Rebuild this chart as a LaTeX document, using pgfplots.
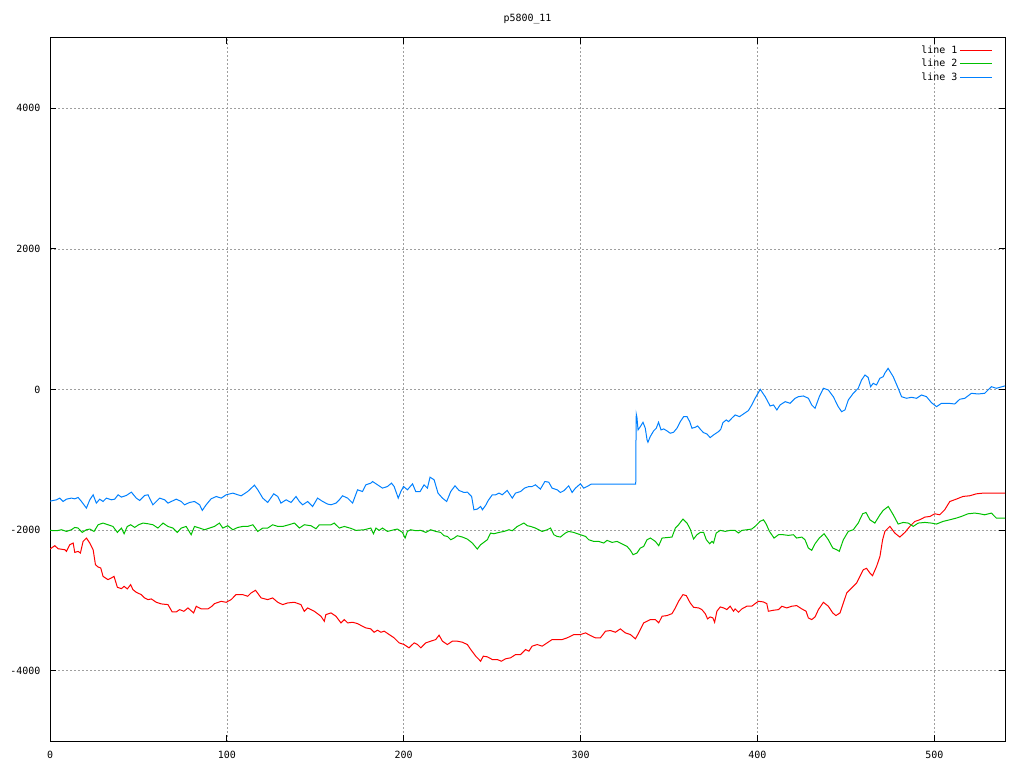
\documentclass[border=0pt]{standalone}
\usepackage{fontspec}
\setmainfont{DejaVu Sans Mono}
\usepackage{pgfplots}
\pgfplotsset{compat=1.18}

\definecolor{gpred}{HTML}{FF0000}
\definecolor{gpgreen}{HTML}{00C000}
\definecolor{gpblue}{HTML}{0080FF}

\begin{document}
\begin{tikzpicture}
\path[use as bounding box] (0,0) rectangle (1024bp,768bp);
\begin{axis}[
    at={(50bp,27bp)}, anchor=south west,
    scale only axis, width=955bp, height=703bp,
    xmin=0, xmax=540, ymin=-5000, ymax=5000,
    xtick={0,100,...,500},
    ytick={-4000,-2000,...,4000},
    grid=major,
    major grid style={gray!75, dash pattern=on 1.5bp off 2.5bp, line width=0.6bp},
    tick align=inside, major tick length=6bp,
    tick style={black, line width=0.8bp},
    axis line style={black, line width=1bp},
    /pgf/number format/assume math mode=true,
    /pgf/number format/1000 sep={},
    tick label style={font=\fontsize{10}{12}\selectfont},
    xticklabel style={yshift=-7bp},
    yticklabel style={xshift=-6bp},
    title={p5800\_11},
    title style={at={(0.5,1)}, anchor=center, yshift=13bp, font=\fontsize{10}{12}\selectfont},
    no markers,
    legend plot pos=right,
    legend image code/.code={\draw[#1] (0bp,0bp) -- (32bp,0bp);},
    legend style={draw=none, fill=none, at={(rel axis cs:0.99,0.995)}, anchor=north east,
        font=\fontsize{10}{12}\selectfont, row sep=0.5bp, cells={anchor=east}},
]
% line 1 (red)
\addplot[gpred, line width=1bp] coordinates {
(0,-2269)(2.7,-2222)(4.6,-2265)(8.4,-2279)(9.3,-2303)(11.2,-2208)(13.1,-2184)(14,-2317)(15.9,-2303)(17.2,-2326)
(18.7,-2161)(20.6,-2113)(22.5,-2184)(24.4,-2279)(25.7,-2492)(27.2,-2525)(28.7,-2539)(30,-2658)(32.8,-2705)(34.7,-2681)
(36.2,-2658)(38.1,-2814)(40.4,-2833)(41.9,-2800)(43.7,-2837)(45.6,-2776)(46.9,-2847)(48.8,-2885)(51.6,-2918)(53.5,-2965)
(55.4,-2989)(57.3,-2979)(60.1,-3027)(62.9,-3050)(66.7,-3060)(69.1,-3164)(71.4,-3164)(73.3,-3131)(75.7,-3155)(78,-3107)
(81.2,-3178)(82.7,-3084)(85.5,-3121)(89.3,-3121)(91.5,-3084)(93,-3046)(96.8,-3013)(99.6,-3027)(102.4,-2989)(105.2,-2918)
(109,-2918)(111.8,-2941)(113.7,-2894)(116.2,-2856)(119.4,-2965)(123.1,-2989)(125.9,-2965)(128.8,-3027)(131.6,-3060)(134.4,-3036)
(138.2,-3027)(141.9,-3060)(143.8,-3155)(145.7,-3107)(149.5,-3155)(153.2,-3225)(155.1,-3297)(156,-3202)(158.9,-3178)(161.7,-3225)
(164.5,-3320)(166.4,-3273)(168.3,-3320)(171.1,-3311)(173.9,-3330)(176.7,-3368)(178.6,-3391)(181.4,-3405)
(183.3,-3453)(185.2,-3424)(187.1,-3453)(189,-3438)(191.8,-3486)(194.6,-3533)(197.4,-3604)(200.2,-3628)(203,-3675)(205.9,-3604)
(207.8,-3628)(209.7,-3675)(212.5,-3604)(215.3,-3580)(218.1,-3557)(220,-3495)(221.9,-3580)(224.7,-3628)(227.5,-3580)(230.3,-3580)
(233.2,-3595)(236,-3628)(237.9,-3699)(240.7,-3793)(243.5,-3865)(245,-3793)(247.3,-3803)(250.1,-3841)(252.9,-3841)(255.2,-3865)
(257.6,-3831)(260.4,-3817)(263.3,-3770)(266.1,-3770)(268.9,-3699)(270.8,-3722)(272.6,-3651)(275.5,-3628)(278.3,-3651)(281.1,-3604)
(283.9,-3557)(286.8,-3557)(289.6,-3557)(292.4,-3533)(296.2,-3486)(299.9,-3486)(302.8,-3462)(305.6,-3500)(308.4,-3533)(311.2,-3533)
(314.1,-3438)(316.9,-3429)(319.7,-3453)(322.5,-3405)(325.3,-3462)(328.2,-3486)(331,-3547)(332.9,-3462)(335.7,-3320)(339.5,-3273)
(342.3,-3273)(344.2,-3320)(346.1,-3225)(348.9,-3216)(351.7,-3188)(353.6,-3107)(355.4,-3013)(357.9,-2918)(359.8,-2932)
(362,-3036)(363.9,-3098)(366.7,-3107)(368.6,-3131)(370.5,-3188)(371.8,-3263)(373.3,-3235)(374.8,-3249)(375.8,-3311)(377.1,-3154)
(379,-3093)(380.9,-3107)(382.7,-3131)(384.6,-3083)(386.5,-3154)(387.4,-3121)(389.3,-3169)(391.2,-3121)(394,-3083)(396.8,-3083)
(398.7,-3046)(400.6,-3012)(403.4,-3022)(405.3,-3046)(406.2,-3154)(409.1,-3140)(411.9,-3131)(413.8,-3083)(416.6,-3107)(419.4,-3083)
(422.2,-3074)(425.1,-3121)(427.5,-3154)(428.8,-3249)(430.7,-3273)(432.6,-3235)(434.5,-3131)(437.3,-3027)(440.1,-3083)(442.6,-3178)
(444.4,-3216)(446.7,-3178)(448.6,-3036)(450.5,-2894)(453.3,-2823)(456.1,-2752)(458,-2657)(459.9,-2563)(461.7,-2544)(463.6,-2610)
(465.1,-2648)(467.4,-2515)(469.3,-2373)(470.8,-2137)(472.1,-2018)(474.9,-1947)(477.7,-2042)(480.5,-2099)(483.4,-2033)(486.2,-1947)
(489,-1877)(491.8,-1853)(494.7,-1815)(497.5,-1806)(500.3,-1768)(503.1,-1782)(505.9,-1711)(508.8,-1593)(512.5,-1559)(516.3,-1521)
(520,-1512)(523.8,-1484)(527.6,-1474)(531.3,-1474)(535.1,-1474)(539.8,-1474)(540,-1474)
};
\addlegendentry{line 1}
% line 2 (green)
\addplot[gpgreen, line width=1bp] coordinates {
(0,-2004)(3.7,-2009)(6.5,-1995)(9.3,-2019)(12.1,-1995)(14,-1962)(15.9,-1971)(18.2,-2033)(20.6,-1995)(22.5,-1985)
(24.9,-2019)(27.2,-1924)(30,-1900)(32.8,-1924)(35.6,-1948)(38.1,-2033)(40.4,-1971)(41.9,-2052)(43.7,-1948)(45.6,-1924)
(47.9,-1962)(50.1,-1924)(52.6,-1900)(55.4,-1910)(58.2,-1924)(61,-1971)(63.9,-1900)(66.7,-1948)(69.5,-1971)(72,-2033)
(74.2,-1971)(77,-1948)(79.8,-2066)(81.7,-1948)(84.6,-1971)(87.4,-1995)(90.2,-1971)(93,-1948)(95.8,-1900)(97.7,-1971)
(100.5,-1938)(103.4,-1995)(106.2,-1962)(109,-1948)(111.8,-1948)(114.7,-1924)(117.5,-2019)(120.3,-1971)(123.1,-1971)(125.9,-1924)
(128.8,-1948)(131.6,-1948)(134.4,-1929)(138.2,-1900)(141,-1971)(143.8,-1924)(147.6,-1938)(150.4,-1981)(152.3,-1924)(155.1,-1924)
(158.9,-1924)(160.7,-1900)(163.6,-1971)(166.4,-1948)(170.2,-1976)(173,-2004)(177.7,-1995)(181.4,-1971)
(182.9,-2052)(184.3,-1971)(186.1,-2004)(188,-1971)(190.8,-2019)(194.6,-1995)(196.5,-1985)(199.3,-2033)(200.8,-2113)(202.1,-2019)
(204,-1995)(206.8,-2009)(209.7,-2004)(212.5,-2033)(215.3,-1995)(218.1,-2019)(220.9,-2033)(222.8,-2080)(224.7,-2090)(226.6,-2137)
(228.5,-2113)(230.3,-2080)(233.2,-2099)(236,-2128)(238.8,-2184)(241.6,-2269)(243.5,-2208)(247.3,-2137)(249.1,-2042)(251,-2052)
(253.9,-2033)(256.7,-2019)(259.5,-1995)(261.4,-2009)(264.2,-1948)(268,-1900)(269.9,-1938)(271.8,-1948)(274.5,-1971)(278.3,-2019)
(281.1,-1995)(283,-1971)(284.9,-2066)(286.8,-2090)(288.6,-2099)(291.4,-2042)(293.3,-2019)(296.1,-2033)(299.9,-2066)(302.8,-2090)
(304.6,-2137)(307.5,-2161)(310.3,-2161)(313.1,-2184)(315,-2146)(317.8,-2175)(320.6,-2161)(324.4,-2208)(326.3,-2232)(328.2,-2288)
(329.7,-2350)(331.9,-2326)(333.8,-2255)(335.7,-2232)(337.6,-2137)(339.5,-2113)(342.3,-2161)(344.2,-2222)(346.1,-2113)(351.7,-2099)
(353.6,-1971)(355.4,-1924)(357.9,-1843)(360.2,-1900)
(362,-1985)(363.9,-2127)(365.8,-2066)(367.7,-2033)(369.6,-2033)(371.1,-2137)(373,-2194)(374.3,-2160)(375.2,-2184)(376.7,-2042)
(379,-2004)(381.8,-2018)(384.6,-2004)(387.4,-2004)(389.3,-2042)(391.2,-2004)(394,-1995)(396.8,-1985)(398.7,-1947)(401.5,-1876)
(403.4,-1853)(404.9,-1910)(406.8,-2018)(409.4,-2113)(411.9,-2066)(414.7,-2066)(417.5,-2075)(420.4,-2066)(422.2,-2113)(425.1,-2099)
(426.9,-2137)(428.8,-2255)(430.7,-2288)(432.6,-2194)(435,-2113)(437.7,-2052)(440.1,-2137)(442.6,-2255)(444.8,-2279)(446.3,-2302)
(448.6,-2137)(451.4,-2018)(454.2,-1995)(457,-1900)(459.5,-1768)(461.4,-1749)(463.6,-1853)(466.4,-1900)(469.3,-1782)(471.1,-1720)
(474,-1664)(476.8,-1782)(479.6,-1914)(482.4,-1891)(485.3,-1900)(488.1,-1947)(490.9,-1900)(494.7,-1891)(498.4,-1900)(501.2,-1914)
(505,-1876)(508.8,-1853)(512.5,-1829)(515.3,-1806)(519.1,-1768)(522.9,-1758)(525.7,-1768)(528.5,-1782)(532.3,-1758)(535.1,-1829)
(539.8,-1829)(540,-1829)
};
\addlegendentry{line 2}
% line 3 (blue)
\addplot[gpblue, line width=1bp] coordinates {
(0,-1588)(3.7,-1569)(5.5,-1545)(7.4,-1593)(9.3,-1560)(12.1,-1545)(14,-1555)(15.9,-1536)(17.8,-1593)(20.6,-1687)
(22.5,-1569)(24.4,-1498)(26.2,-1616)(28.1,-1560)(30,-1593)(31.9,-1545)(34.7,-1569)(36.6,-1560)(38.5,-1498)(40.4,-1531)
(43.2,-1507)(46,-1460)(48.8,-1545)(50.7,-1578)(53.5,-1507)(55.4,-1498)(58.2,-1640)(60.1,-1593)(62,-1545)(64.8,-1569)
(66.7,-1616)(68.6,-1593)(71.4,-1560)(74.2,-1593)(76.1,-1640)(78.9,-1607)(81.7,-1593)(84.6,-1640)(86.1,-1720)(88.3,-1640)
(91.1,-1555)(94,-1522)(96.8,-1545)(99.6,-1498)(103.4,-1474)(106.2,-1498)(108.1,-1512)(111.8,-1451)(115.6,-1361)(117.5,-1427)
(120.3,-1545)(123.1,-1607)(126.5,-1484)(128.8,-1522)(130.6,-1616)(133.5,-1569)(136.3,-1607)(139.1,-1522)(141,-1593)(142.9,-1640)
(145.7,-1593)(148.5,-1664)(151.3,-1545)(154.2,-1593)(157,-1630)(158.9,-1640)(161.7,-1616)(163.6,-1569)(165.4,-1512)(168.3,-1545)
(171.1,-1616)(173.9,-1427)(176.7,-1451)(178.6,-1356)(181.4,-1332)
(182.4,-1309)(185.2,-1356)(188,-1403)(190.8,-1380)(193.1,-1332)(194.6,-1380)(196.9,-1545)(198.4,-1451)(199.9,-1380)(202.1,-1427)
(205,-1342)(206.8,-1451)(209.3,-1451)(211.5,-1356)(213.4,-1403)(214.9,-1247)(217.2,-1285)(219.4,-1474)(221.9,-1545)(224.3,-1593)
(226.6,-1451)(229,-1370)(231.3,-1436)(234.1,-1465)(236,-1460)(238.4,-1522)(239.7,-1711)(241.6,-1701)(243.5,-1664)(244.5,-1711)
(246.3,-1649)(247.8,-1578)(250.1,-1498)(252,-1498)(253.9,-1474)(255.7,-1498)(258.5,-1436)(261.4,-1545)(263.2,-1474)(266.1,-1451)
(268.3,-1403)(270.8,-1380)(272.6,-1380)(274.5,-1356)(277.3,-1417)(279.8,-1309)(282,-1318)(283.9,-1403)(286.8,-1427)(288.6,-1465)
(290.5,-1441)(293.3,-1370)(295.2,-1465)(297.1,-1403)(299.9,-1342)(301.8,-1403)(303.7,-1380)(306,-1346)(331.2,-1346)
(331.3,-835)(331.5,-352)(331.9,-400)(332.5,-575)(333.8,-528)(335.3,-466)(336.6,-551)(337.6,-717)(338.1,-750)(339.4,-670)
(341.3,-589)(342.8,-551)(344.1,-466)(345.5,-575)(347,-561)(348.9,-589)(350.7,-622)(352.6,-608)(354.5,-551)(356.4,-457)
(358.3,-386)(360.2,-386)(361.7,-457)(363,-551)(364.9,-537)(366.2,-518)(367.7,-565)(369.5,-613)(371.4,-632)(373.3,-684)
(375.2,-646)(378,-599)(379.3,-565)(380.5,-471)(382.4,-433)(383.7,-457)(385.5,-409)(387.4,-362)(389.9,-386)(392.1,-348)
(394.9,-300)(396.8,-220)(398.7,-125)(401.6,2)(404.4,-102)(407.2,-234)(409.1,-220)(411,-291)(412.8,-220)(415.7,-173)
(418.5,-196)(421.3,-125)(423.2,-102)(426,-92)(428.8,-125)(430.7,-220)(432.6,-267)(435,-102)(437.3,17)(440.1,-7)
(442.9,-102)(445.7,-244)(447.6,-315)(449.5,-291)(451.4,-149)(454.2,-54)(457,17)(458.9,135)(460.8,206)(462.6,173)
(464,40)(465.5,88)(467.3,64)(469.2,159)(471.1,182)(472,230)(473.9,301)(476.8,182)(479.6,17)(481.5,-102)
(484.3,-125)(487.1,-111)(490,-125)(492.8,-78)(495.6,-102)(498.4,-187)(501.3,-244)(504.1,-196)(507.9,-196)(511.6,-206)
(514.4,-139)(517.3,-125)(521,-54)(524.8,-64)(528.5,-54)(532.3,40)(535.1,17)(539.8,50)(540,50)
};
\addlegendentry{line 3}
\end{axis}
\end{tikzpicture}
\end{document}
